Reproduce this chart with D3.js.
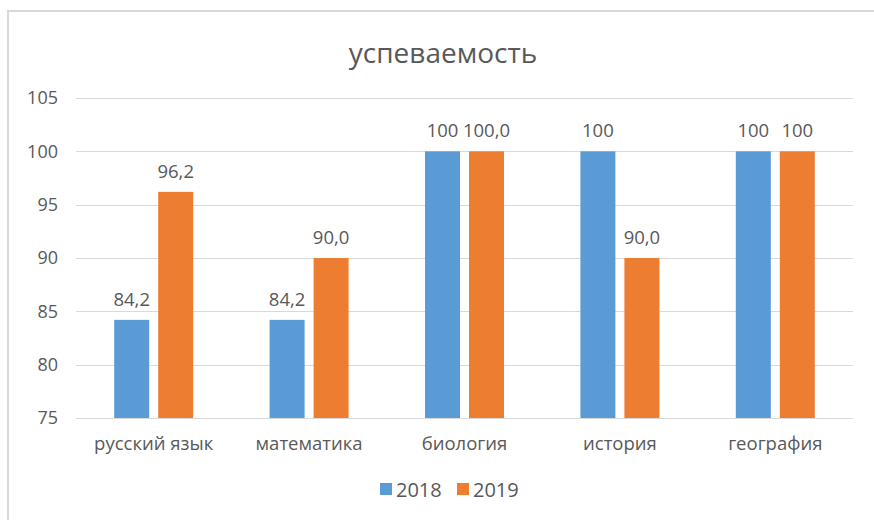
<!DOCTYPE html>
<html>
<head>
<meta charset="utf-8">
<script src="https://cdn.jsdelivr.net/npm/d3@7"></script>
<style>
  body { margin: 0; background: #fff; }
  text { font-family: "Open Sans", "Noto Sans", sans-serif; fill: #595959; }
</style>
</head>
<body>
<div id="frame"></div>
<script>
// data
let categories = ["русский язык", "математика", "биология", "история", "география"];
let series = ["2018", "2019"];
let values2018 = [84.2, 84.2, 100, 100, 100];
let values2019 = [96.2, 90.0, 100.0, 90.0, 100];
let labels2018 = ["84,2", "84,2", "100", "100", "100"];
let labels2019 = ["96,2", "90,0", "100,0", "90,0", "100"];
let yTicks = [75, 80, 85, 90, 95, 100, 105];
let colors = ["#5B9BD5", "#ED7D31"];

let width = 874, height = 520;
let plot = { left: 76, right: 853, top: 98, bottom: 418 };

let svg = d3.select('#frame')
    .append('svg')
    .attr('width', width)
    .attr('height', height);

// outer border (only top and left visible in the crop)
svg.append('path')
    .attr('d', 'M8,' + height + 'V11H' + width)
    .attr('fill', 'none')
    .attr('stroke', '#d9d9d9')
    .attr('stroke-width', 2);

// scales
let x0 = d3.scaleBand()
    .domain(categories)
    .range([plot.left, plot.right]);

let x1 = d3.scaleBand()
    .domain(series)
    .range([-39.5, 39.5])
    .paddingInner(9 / 44);

let y = d3.scaleLinear()
    .domain([75, 105])
    .range([plot.bottom, plot.top]);

// gridlines
svg.append('g')
    .selectAll('line')
    .data(yTicks)
    .enter()
    .append('line')
    .attr('x1', plot.left)
    .attr('x2', plot.right)
    .attr('y1', d => Math.round(y(d)) + 0.5)
    .attr('y2', d => Math.round(y(d)) + 0.5)
    .attr('stroke', '#d9d9d9')
    .attr('stroke-width', 1);

// y axis labels
let yAxis = svg.append('g')
    .attr('transform', 'translate(' + (plot.left - 18) + ',0)')
    .call(d3.axisLeft(y).tickValues(yTicks).tickSize(0).tickPadding(0));
yAxis.select('.domain').remove();
yAxis.selectAll('text')
    .style('font-size', '18px')
    .style('fill', '#595959');

// x axis labels
let xAxis = svg.append('g')
    .attr('transform', 'translate(0,' + plot.bottom + ')')
    .call(d3.axisBottom(x0).tickSize(0).tickPadding(19));
xAxis.select('.domain').remove();
xAxis.selectAll('text')
    .style('font-size', '18.5px')
    .style('fill', '#595959');

// bars
let rows = categories.map((c, i) => ({
    category: c,
    items: [
        { s: "2018", v: values2018[i], label: labels2018[i] },
        { s: "2019", v: values2019[i], label: labels2019[i] }
    ]
}));

let groups = svg.append('g')
    .selectAll('g')
    .data(rows)
    .enter()
    .append('g')
    .attr('transform', d => 'translate(' + (x0(d.category) + x0.bandwidth() / 2) + ',0)');

groups.selectAll('rect')
    .data(d => d.items)
    .enter()
    .append('rect')
    .attr('x', d => x1(d.s))
    .attr('y', d => y(d.v))
    .attr('width', x1.bandwidth())
    .attr('height', d => y(75) - y(d.v))
    .attr('fill', (d, i) => colors[i]);

groups.selectAll('text')
    .data(d => d.items)
    .enter()
    .append('text')
    .attr('x', d => x1(d.s) + x1.bandwidth() / 2)
    .attr('y', d => y(d.v) - 14)
    .attr('text-anchor', 'middle')
    .style('font-size', '18.5px')
    .text(d => d.label);

// title
svg.append('text')
    .attr('x', 443)
    .attr('y', 63)
    .attr('text-anchor', 'middle')
    .style('font-size', '28px')
    .text('успеваемость');

// legend
let legend = svg.append('g')
    .selectAll('g')
    .data(series)
    .enter()
    .append('g')
    .attr('transform', (d, i) => 'translate(' + (380 + i * 77) + ',483)');

legend.append('rect')
    .attr('width', 12)
    .attr('height', 12)
    .attr('fill', (d, i) => colors[i]);

legend.append('text')
    .attr('x', 16)
    .attr('y', 14)
    .style('font-size', '20px')
    .text(d => d);
</script>
</body>
</html>
